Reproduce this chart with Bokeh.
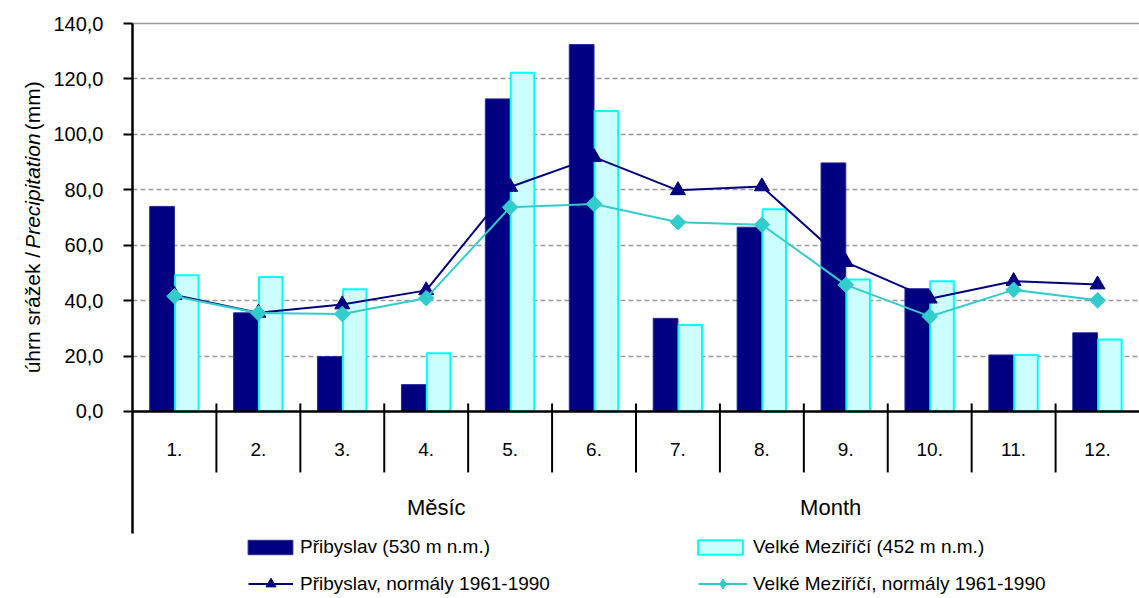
import numpy as np
from bokeh.plotting import figure
from bokeh.layouts import row
from bokeh.models import (ColumnDataSource, FactorRange, Range1d, FixedTicker, Grid,
                          Span, Label, Legend, LegendItem)
from bokeh.transform import dodge
from bokeh.core.properties import value
from bokeh.embed import file_html
from bokeh.resources import INLINE

# ---- data ----
months = ["1.", "2.", "3.", "4.", "5.", "6.", "7.", "8.", "9.", "10.", "11.", "12."]
pribyslav = [74.0, 35.6, 19.8, 9.7, 112.8, 132.4, 33.6, 66.5, 89.7, 44.3, 20.4, 28.4]
velke_mezirici = [49.2, 48.5, 44.1, 21.0, 122.2, 108.4, 31.2, 73.0, 47.6, 47.0, 20.4, 26.0]
pribyslav_normal = [42.0, 35.6, 38.6, 43.7, 81.0, 91.8, 79.8, 81.2, 53.9, 40.7, 47.0, 45.8]
velke_normal = [41.6, 35.5, 35.2, 40.9, 73.7, 74.9, 68.3, 67.4, 45.7, 34.3, 43.9, 40.1]
y_ticks = [0, 20, 40, 60, 80, 100, 120, 140]
y_tick_labels = ["0,0", "20,0", "40,0", "60,0", "80,0", "100,0", "120,0", "140,0"]
y_title_parts = ["úhrn srážek /", "Precipitation", "(mm)"]
x_titles = ["Měsíc", "Month"]

FONT = "Liberation Sans"
NAVY = "#000080"
TEAL = "#33CCCC"
TITLE_W = 50

src = ColumnDataSource(dict(month=months, prib=pribyslav, velke=velke_mezirici,
                            pn=pribyslav_normal, vn=velke_normal))
sep_src = ColumnDataSource(dict(month=months[:-1]))
# legend-only proxy for the diamond marker (nothing drawn in the plot)
proxy_src = ColumnDataSource(dict(month=[months[0]], vn=[float("nan")]))

# ---- narrow strip holding the rotated y-axis title ----
t = figure(width=TITLE_W, height=598, x_range=Range1d(0, TITLE_W), y_range=Range1d(598, 0),
           x_axis_type=None, y_axis_type=None, output_backend="svg", toolbar_location=None,
           min_border=0)
t.outline_line_color = None
t.grid.visible = False
for txt, style, yy in zip(y_title_parts, ["normal", "italic", "normal"], [367.8, 240.6, 119.3]):
    t.add_layout(Label(x=32, y=yy, text=txt, angle=90, angle_units="deg",
                       text_align="left", text_baseline="alphabetic", text_font=FONT,
                       text_font_style=style, text_font_size="21px", text_color="black"))

# ---- main chart ----
p = figure(width=1139 - TITLE_W, height=598,
           x_range=FactorRange(*months, range_padding=0, factor_padding=0),
           y_range=Range1d(-67.48, 143.61),
           x_axis_type=None, output_backend="svg", toolbar_location=None,
           min_border_left=132 - TITLE_W, min_border_right=0, min_border_top=13,
           min_border_bottom=0)
p.outline_line_color = None

ax = p.yaxis[0]
ax.ticker = FixedTicker(ticks=y_ticks)
ax.major_label_overrides = {tk: lb for tk, lb in zip(y_ticks, y_tick_labels)}
ax.bounds = (-44.0, 140)
ax.axis_line_color = "black"
ax.axis_line_width = 2.5
ax.major_tick_line_color = "black"
ax.major_tick_line_width = 2
ax.major_tick_out = 9
ax.major_tick_in = 0
ax.minor_tick_line_color = None
ax.major_label_standoff = 20
ax.major_label_text_font = FONT
ax.major_label_text_font_size = "20px"
ax.major_label_text_color = "black"

p.ygrid.ticker = FixedTicker(ticks=y_ticks[1:-1])
p.ygrid.grid_line_color = "#999999"
p.ygrid.grid_line_dash = "5 3"
p.ygrid.grid_line_width = 1.5
p.add_layout(Grid(dimension=1, ticker=FixedTicker(ticks=y_ticks[-1:]),
                  grid_line_color="#999999", grid_line_width=1.5))

r_prib = p.vbar(x=dodge("month", -0.1475, range=p.x_range), top="prib", width=0.295,
                source=src, fill_color=NAVY, line_color="#2a2a96", line_width=1)
r_velke = p.vbar(x=dodge("month", 0.1475, range=p.x_range), top="velke", width=0.28,
                 source=src, fill_color="#CCFFFF", line_color="#00FFFF", line_width=2)

p.add_layout(Span(location=0, dimension="width", line_color="black", line_width=2.5))

p.segment(x0=dodge("month", 0.5, range=p.x_range), x1=dodge("month", 0.5, range=p.x_range),
          y0=2.9, y1=-22.0, source=sep_src, line_color="black", line_width=2)

l_pn = p.line(x="month", y="pn", source=src, line_color=NAVY, line_width=2)
s_pn = p.scatter(x="month", y="pn", source=src, marker="triangle", size=15,
                 fill_color=NAVY, line_color=NAVY)
l_vn = p.line(x="month", y="vn", source=src, line_color=TEAL, line_width=2)
s_vn = p.scatter(x="month", y="vn", source=src, marker="square", angle=np.pi / 4, size=11,
                 fill_color=TEAL, line_color=TEAL)
s_vn_leg = p.scatter(x="month", y="vn", source=proxy_src, marker="diamond", size=10,
                     fill_color=TEAL, line_color=TEAL)

p.text(x="month", y=-13.7, text="month", source=src, text_align="center",
       text_baseline="middle", text_font=value(FONT), text_font_size="19px",
       text_color="black")

for txt, xx in zip(x_titles, [3.62, 8.32]):
    p.add_layout(Label(x=xx, y=-34.6, text=txt, text_align="center", text_baseline="middle",
                       text_font=FONT, text_font_size="22px", text_color="black"))

def make_legend(label, renderers, loc, gw, gh, standoff):
    lg = Legend(items=[LegendItem(label=label, renderers=renderers)], location=loc,
                glyph_width=gw, glyph_height=gh, label_standoff=standoff,
                label_text_font=FONT, label_text_font_size="19px", label_text_color="black",
                label_height=22, padding=0, margin=0, spacing=0,
                border_line_color=None, background_fill_alpha=0)
    p.add_layout(lg)

make_legend("Přibyslav (530 m n.m.)", [r_prib], (110, 40), 56, 18, 2)
make_legend("Velké Meziříčí (452 m n.m.)", [r_velke], (560, 40), 56, 18, 5)
make_legend("Přibyslav, normály 1961-1990", [l_pn, s_pn], (116, 2), 45, 25, 7)
make_legend("Velké Meziříčí, normály 1961-1990", [l_vn, s_vn_leg], (566, 2), 49, 25, 6)

layout = row(t, p, spacing=0)
open("out.html", "w").write(file_html(layout, INLINE))
